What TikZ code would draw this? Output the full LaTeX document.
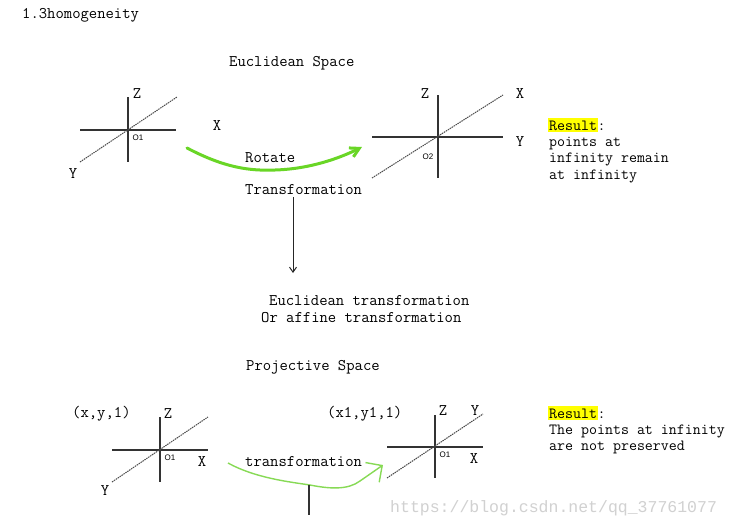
\documentclass[tikz,border=0pt]{standalone}
\usepackage{fontspec}
\newfontfamily\labelfont{Liberation Sans}
\newfontfamily\markfont{Liberation Mono}
\usetikzlibrary{arrows.meta,positioning,calc}
\definecolor{markergreen}{RGB}{105,214,38}
\definecolor{pengreen}{RGB}{135,218,85}
\definecolor{hiyellow}{RGB}{255,255,0}

\begin{document}
\begin{tikzpicture}[x=1pt, y=-1pt, node distance=2pt, font=\ttfamily\fontsize{16.2}{18}\selectfont]
  \tikzstyle{txt} = [inner sep=0pt, anchor=west, text height=12pt, text depth=2pt]
  \tikzstyle{note} = [txt, font=\ttfamily\fontsize{15.5}{17}\selectfont]
  \tikzstyle{lbl} = [txt, anchor=center]
  \tikzstyle{origin} = [inner sep=0pt, font=\labelfont\fontsize{8}{9}\selectfont]
  \tikzstyle{axis} = [draw=black!80, line width=1.3pt]
  \tikzstyle{diag} = [draw=black!70, line width=1pt, dash pattern=on 1.5pt off 0.8pt]
  \tikzstyle{hilite} = [note, fill=hiyellow, inner xsep=1pt]
  \tikzstyle{arrow} = [draw=black!85, line width=1pt, -{Straight Barb[length=5pt,width=7pt]}]
  \tikzstyle{marker} = [draw=markergreen, line width=3pt, line cap=round, -{Straight Barb[length=9pt,width=10pt]}]
  \tikzstyle{pen} = [draw=pengreen, line width=1.4pt, -{Straight Barb[length=12pt,width=24pt]}]

  \useasboundingbox[fill=white] (0,0) rectangle (731,530);

  % headings
  \node[txt] (title) at (22,14) {1.3homogeneity};
  \node[txt] (euspace) at (229,61) {Euclidean Space};
  \node[txt] (prspace) at (246,365) {Projective Space};

  % euclidean axes
  \coordinate (o1) at (128,130);
  \coordinate (o2) at (438,137);
  \path[axis] ([xshift=-48pt]o1) -- ([xshift=48pt]o1);
  \path[axis] ([yshift=33pt]o1) -- ([yshift=-32pt]o1);
  \path[diag] ($(o1)+(-48,32)$) -- ($(o1)+(49,-33)$);
  \path[axis] ([xshift=-66pt]o2) -- ([xshift=65pt]o2);
  \path[axis] ([yshift=42pt]o2) -- ([yshift=-41pt]o2);
  \path[diag] ($(o2)+(-66,41)$) -- ($(o2)+(65,-42)$);

  \node[lbl] (z1) at (137,93) {Z};
  \node[lbl] (x1) at (217,125) {X};
  \node[lbl] (y1) at (73,173) {Y};
  \node[origin] (n1) at (138,138) {O1};
  \node[lbl] (z2) at (425,93) {Z};
  \node[lbl] (x2) at (520,93) {X};
  \node[lbl] (y2) at (520,141) {Y};
  \node[origin] (n2) at (428,157) {O2};

  % rotation
  \node[txt] (rotate) at (245,157) {Rotate};
  \node[txt] (trans) at (245,189) {Transformation};
  \coordinate (rotS) at (187,148);
  \coordinate (rotE) at (362,147);
  \path[marker] (rotS) .. controls (225,168) and (250,171) .. (275,170)
                       .. controls (310,169) and (340,158) .. (rotE);

  \coordinate (arrTop) at (293,197);
  \coordinate (arrBot) at (293,273);
  \path[arrow] (arrTop) -- (arrBot);
  \node[txt] (eutrans) at (269,300) {Euclidean transformation};
  \node[txt] (aftrans) at (261,317) {Or affine transformation};

  % result 1
  \node[hilite] (res1) at (548,125) {Result};
  \node[note, right=0pt of res1, xshift=-1pt] (col1) {:};
  \node[note, below=2pt of res1.south west, anchor=north west, xshift=1pt] (r1a) {points at};
  \node[note, below=of r1a.south west, anchor=north west] (r1b) {infinity remain};
  \node[note, below=of r1b.south west, anchor=north west] (r1c) {at infinity};

  % projective axes
  \coordinate (o3) at (160,450);
  \coordinate (o4) at (435,447);
  \path[axis] ([xshift=-48pt]o3) -- ([xshift=48pt]o3);
  \path[axis] ([yshift=33pt]o3) -- ([yshift=-32pt]o3);
  \path[diag] ($(o3)+(-48,32)$) -- ($(o3)+(48,-33)$);
  \path[axis] ([xshift=-48pt]o4) -- ([xshift=48pt]o4);
  \path[axis] ([yshift=32pt]o4) -- ([yshift=-31pt]o4);
  \path[diag] ($(o4)+(-48,31)$) -- ($(o4)+(48,-33)$);

  \node[txt] (pt1) at (72,412) {(x,y,1)};
  \node[lbl] (z3) at (168,413) {Z};
  \node[lbl] (x3) at (202,461) {X};
  \node[lbl] (y3) at (105,490) {Y};
  \node[origin] (n3) at (170,458) {O1};
  \node[txt] (pt2) at (327,412) {(x1,y1,1)};
  \node[lbl] (z4) at (443,410) {Z};
  \node[lbl] (y4) at (475,410) {Y};
  \node[lbl] (x4) at (474,458) {X};
  \node[origin] (n4) at (445,455) {O1};

  % projective transformation
  \node[txt] (ptrans) at (245,461) {transformation};
  \coordinate (penS) at (228,463);
  \coordinate (penE) at (383,465);
  \path[pen] (penS) .. controls (255,478) and (290,482) .. (310,485)
                    .. controls (330,489) and (348,490) .. (360,481)
                    -- (penE);
  \coordinate (tickTop) at (309,485);
  \coordinate (tickBot) at (309,515);
  \path[axis] (tickTop) -- (tickBot);

  % result 2
  \node[hilite] (res2) at (548,413) {Result};
  \node[note, right=0pt of res2, xshift=-1pt] (col2) {:};
  \node[note, below=2pt of res2.south west, anchor=north west, xshift=1pt] (r2a) {The points at infinity};
  \node[note, below=of r2a.south west, anchor=north west] (r2b) {are not preserved};

  % watermark
  \node[txt, text=black!18, font=\markfont\fontsize{16.5}{18}\selectfont] (mark) at (390,507) {https://blog.csdn.net/qq\_37761077};
\end{tikzpicture}
\end{document}
